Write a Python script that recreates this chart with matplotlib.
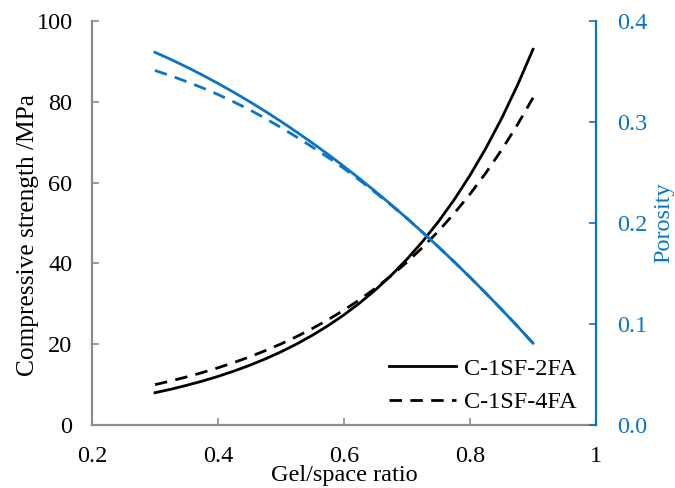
import matplotlib.pyplot as plt
from matplotlib.ticker import FuncFormatter

# gel/space ratio
gel_space = [0.300, 0.325, 0.350, 0.375, 0.400, 0.425, 0.450, 0.475, 0.500,
             0.525, 0.550, 0.575, 0.600, 0.625, 0.650, 0.675, 0.700, 0.725,
             0.750, 0.775, 0.800, 0.825, 0.850, 0.875, 0.900]

# compressive strength (MPa)
strength_2fa = [8.0, 8.86, 9.82, 10.87, 12.04, 13.34, 14.77, 16.36, 18.12,
                20.07, 22.24, 24.63, 27.28, 30.22, 33.47, 37.07, 41.06, 45.48,
                50.38, 55.80, 61.81, 68.46, 75.83, 83.99, 93.0]
strength_4fa = [10.0, 10.91, 11.90, 12.99, 14.17, 15.46, 16.87, 18.41, 20.08,
                21.91, 23.91, 26.09, 28.46, 31.05, 33.88, 36.97, 40.33, 44.01,
                48.01, 52.39, 57.16, 62.37, 68.05, 74.25, 81.0]

# porosity
porosity_2fa = [0.369, 0.362, 0.3545, 0.3466, 0.3382, 0.3294, 0.3202, 0.3106, 0.3005,
                0.290, 0.2791, 0.2678, 0.256, 0.2438, 0.2311, 0.2181, 0.2046, 0.1906,
                0.1763, 0.1615, 0.1463, 0.1306, 0.1145, 0.098, 0.081]
porosity_4fa = [0.351, 0.3458, 0.340, 0.3339, 0.3272, 0.3199, 0.3122, 0.3036, 0.2945,
                0.285, 0.2751, 0.2648, 0.254, 0.2423, 0.2301, 0.2176, 0.2046, 0.1906,
                0.1763, 0.1615, 0.1463, 0.1306, 0.1145, 0.098, 0.081]

labels = ['C-1SF-2FA', 'C-1SF-4FA']
x_ticks = [0.2, 0.4, 0.6, 0.8, 1.0]

plt.rcParams['font.family'] = ['Liberation Serif', 'DejaVu Serif']
blue = '#0A74C8'
grey = '#8C8C8C'
dash = (0, (4.5, 3))
fs = 17.5

fig = plt.figure(figsize=(6.75, 4.88), dpi=100)
ax = fig.add_axes([0.1363, 0.129, 0.7467, 0.828])
ax2 = ax.twinx()

ax.plot(gel_space, strength_2fa, color='black', lw=2, label=labels[0])
ax.plot(gel_space, strength_4fa, color='black', lw=2, linestyle=dash, label=labels[1])
ax2.plot(gel_space, porosity_2fa, color=blue, lw=2)
ax2.plot(gel_space, porosity_4fa, color=blue, lw=2, linestyle=dash)

ax.set_xlim(0.2, 1.0)
ax.set_ylim(0, 100)
ax2.set_ylim(0, 0.4)
ax.set_xticks(x_ticks)
ax.xaxis.set_major_formatter(FuncFormatter(lambda v, p: '1' if abs(v - 1) < 1e-9 else f'{v:.1f}'))
ax.set_yticks(range(0, 101, 20))
ax2.set_yticks([0.0, 0.1, 0.2, 0.3, 0.4])
ax2.yaxis.set_major_formatter(FuncFormatter(lambda v, p: f'{v:.1f}'))

for a in (ax, ax2):
    a.spines['top'].set_visible(False)
ax.spines['left'].set_color(grey)
ax.spines['bottom'].set_color(grey)
ax.spines['right'].set_visible(False)
ax2.spines['left'].set_visible(False)
ax2.spines['bottom'].set_visible(False)
ax2.spines['right'].set_color(blue)
for s in ('left', 'bottom'):
    ax.spines[s].set_linewidth(1.6)
ax2.spines['right'].set_linewidth(1.6)

ax.tick_params(axis='both', direction='in', length=5, width=1.2, color=grey,
               labelsize=fs)
ax.tick_params(axis='y', pad=14)
ax.tick_params(axis='x', pad=15)
ax2.tick_params(axis='y', direction='in', length=5, width=1.2, color=blue,
                labelcolor=blue, labelsize=fs, pad=15)

ax.set_xlabel('Gel/space ratio', fontsize=fs, labelpad=-1)
ax.set_ylabel('Compressive strength /MPa', fontsize=18.3, labelpad=1)
ax.yaxis.set_label_coords(-0.105, 0.47)
ax2.set_ylabel('Porosity', fontsize=fs, color=blue, labelpad=4)

ax.legend(loc='lower right', frameon=False, fontsize=fs, handlelength=2.75,
          handletextpad=0.35, labelspacing=0.48, borderaxespad=0,
          bbox_to_anchor=(0.982, 0.005))

plt.savefig('out.png', dpi=100)
